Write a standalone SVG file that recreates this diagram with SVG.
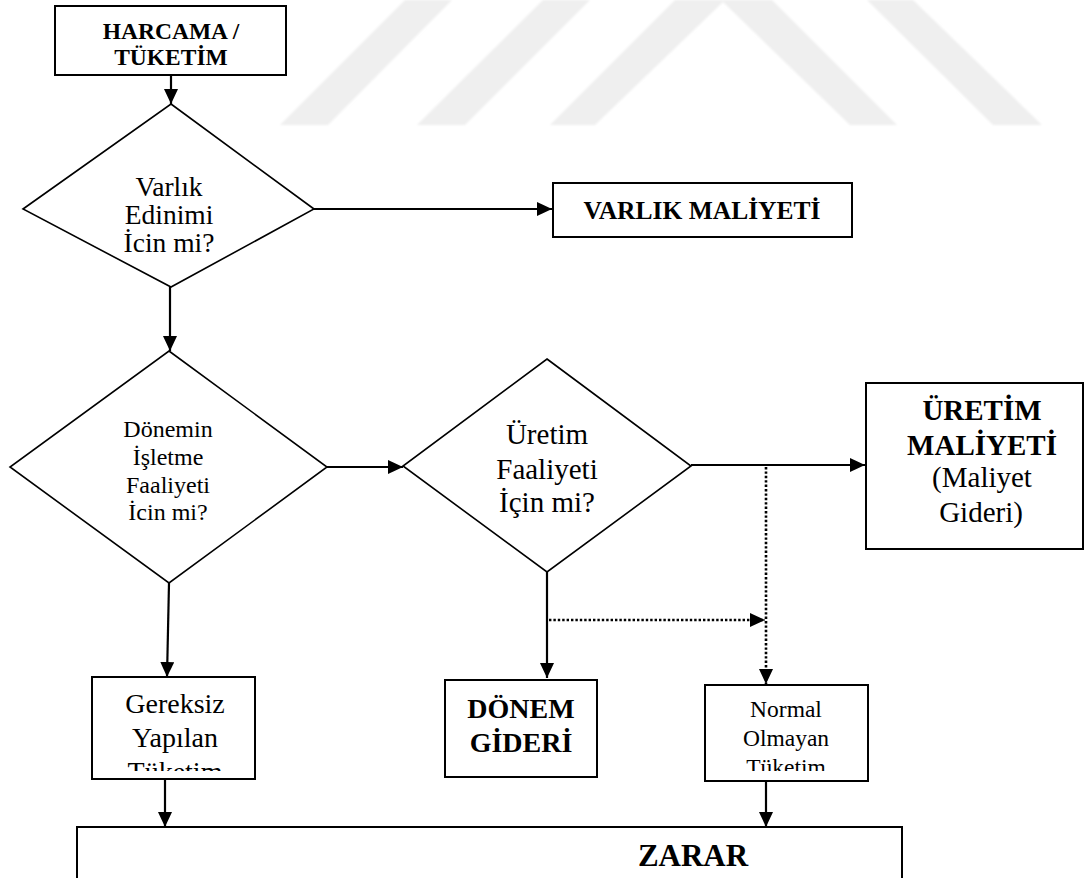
<svg xmlns="http://www.w3.org/2000/svg" width="1086" height="878" viewBox="0 0 1086 878">
  <defs>
    <marker id="arrow" viewBox="0 0 15 14" refX="15" refY="7" markerWidth="15" markerHeight="14" markerUnits="userSpaceOnUse" orient="auto">
      <path d="M0,0 L15,7 L0,14 z" fill="#000"/>
    </marker>
    <filter id="soft" x="-5%" y="-5%" width="110%" height="110%">
      <feGaussianBlur stdDeviation="1.2"/>
    </filter>
    <clipPath id="clipGereksiz"><rect x="93" y="678" width="161" height="93"/></clipPath>
    <clipPath id="clipNormal"><rect x="706" y="686" width="161" height="85"/></clipPath>
  </defs>
  <style>
    .box { fill: #fff; stroke: #000; stroke-width: 2; }
    .dia { fill: #fff; stroke: #000; stroke-width: 1.6; }
    .ln { fill: none; stroke: #000; stroke-width: 2.2; }
    .dot { fill: none; stroke: #000; stroke-width: 2.6; stroke-dasharray: 2.4 2; }
    .t { font-family: "Liberation Serif", "Times New Roman", serif; fill: #000; text-anchor: middle; }
    .b { font-weight: bold; }
    .wm { fill: #efefef; }
  </style>

  <rect width="1086" height="878" fill="#fff"/>

  <!-- background chevron bands -->
  <g id="background" filter="url(#soft)">
    <polygon class="wm" points="405,0 452,0 328,125 280,125"/>
    <polygon class="wm" points="543,0 590,0 465,125 417,125"/>
    <polygon class="wm" points="550,125 675,0 772,0 897,125 850,125 723,2 595,125"/>
    <polygon class="wm" points="867,0 913,0 1042,125 993,125"/>
  </g>

  <!-- connectors -->
  <g id="connectors">
    <line class="ln" x1="171" y1="75" x2="171" y2="104" marker-end="url(#arrow)"/>
    <line class="ln" x1="314" y1="209" x2="552" y2="209" marker-end="url(#arrow)"/>
    <line class="ln" x1="170" y1="287" x2="170" y2="351" marker-end="url(#arrow)"/>
    <line class="ln" x1="327" y1="467" x2="403" y2="467" marker-end="url(#arrow)"/>
    <line class="ln" x1="169" y1="583" x2="167" y2="677" marker-end="url(#arrow)"/>
    <line class="ln" x1="691" y1="465" x2="865" y2="465" marker-end="url(#arrow)"/>
    <line class="ln" x1="547" y1="572" x2="547" y2="678" marker-end="url(#arrow)"/>
    <line class="dot" x1="549" y1="620" x2="765" y2="620" marker-end="url(#arrow)"/>
    <line class="dot" x1="766" y1="467" x2="766" y2="684" marker-end="url(#arrow)"/>
    <line class="ln" x1="165" y1="779" x2="165" y2="827" marker-end="url(#arrow)"/>
    <line class="ln" x1="766" y1="781" x2="766" y2="827" marker-end="url(#arrow)"/>
  </g>

  <!-- start -->
  <g id="harcama">
    <rect class="box" x="55" y="6" width="231" height="69"/>
    <text class="t b" font-size="23.5" x="171" y="39">HARCAMA /</text>
    <text class="t b" font-size="23.5" x="171" y="65">TÜKETİM</text>
  </g>

  <!-- decision: asset acquisition -->
  <g id="varlik-karar">
    <polygon class="dia" points="171,104 314,209 171,287 23,209"/>
    <text class="t" font-size="27.5" x="169" y="196">Varlık</text>
    <text class="t" font-size="27.5" x="169" y="224">Edinimi</text>
    <text class="t" font-size="27.5" x="169" y="252">İcin mi?</text>
  </g>

  <g id="varlik-maliyeti">
    <rect class="box" x="553" y="183" width="299" height="54"/>
    <text class="t b" font-size="25.5" x="702" y="219">VARLIK MALİYETİ</text>
  </g>

  <!-- decision: operating activity -->
  <g id="isletme-karar">
    <polygon class="dia" points="169,351 327,467 169,583 10,467"/>
    <text class="t" font-size="24" x="168" y="437">Dönemin</text>
    <text class="t" font-size="24" x="168" y="465">İşletme</text>
    <text class="t" font-size="24" x="168" y="493">Faaliyeti</text>
    <text class="t" font-size="24" x="168" y="520">İcin mi?</text>
  </g>

  <!-- decision: production activity -->
  <g id="uretim-karar">
    <polygon class="dia" points="547,359 691,466 547,572 403,466"/>
    <text class="t" font-size="29" x="547" y="444">Üretim</text>
    <text class="t" font-size="29" x="547" y="479">Faaliyeti</text>
    <text class="t" font-size="29" x="547" y="512">İçin mi?</text>
  </g>

  <g id="uretim-maliyeti">
    <rect class="box" x="866" y="383" width="217" height="166"/>
    <text class="t b" font-size="29" x="982" y="420">ÜRETİM</text>
    <text class="t b" font-size="29" x="982" y="455">MALİYETİ</text>
    <text class="t" font-size="29" x="982" y="487">(Maliyet</text>
    <text class="t" font-size="29" x="981" y="522">Gideri)</text>
  </g>

  <g id="gereksiz-tuketim">
    <rect class="box" x="92" y="677" width="163" height="102"/>
    <g clip-path="url(#clipGereksiz)">
      <text class="t" font-size="28" x="175" y="713">Gereksiz</text>
      <text class="t" font-size="28" x="175" y="747">Yapılan</text>
      <text class="t" font-size="28" x="175" y="781">Tüketim</text>
    </g>
  </g>

  <g id="donem-gideri">
    <rect class="box" x="445" y="680" width="152" height="97"/>
    <text class="t b" font-size="28" x="521" y="718">DÖNEM</text>
    <text class="t b" font-size="28" x="521" y="752">GİDERİ</text>
  </g>

  <g id="normal-olmayan">
    <rect class="box" x="705" y="685" width="163" height="96"/>
    <g clip-path="url(#clipNormal)">
      <text class="t" font-size="23.5" x="786" y="717">Normal</text>
      <text class="t" font-size="23.5" x="786" y="746">Olmayan</text>
      <text class="t" font-size="23.5" x="786" y="775">Tüketim</text>
    </g>
  </g>

  <g id="zarar">
    <rect class="box" x="77" y="827" width="825" height="70"/>
    <text class="t b" font-size="31" x="693" y="866">ZARAR</text>
  </g>
</svg>
